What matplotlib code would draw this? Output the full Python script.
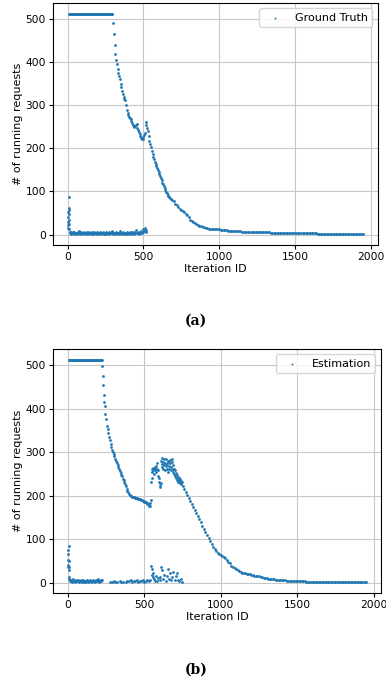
import numpy as np
import matplotlib
matplotlib.use('Agg')
import matplotlib.pyplot as plt

# ---- (a) Ground Truth ----
# plateau at max batch size
gt_flat_y = [512, 512, 512, 512, 512, 512, 512, 512, 512, 512,
             512, 512, 512, 512, 512, 512, 512, 512, 512, 512,
             512, 512, 512, 512, 512, 512, 512, 512, 512, 512,
             512, 512, 512, 512, 512, 512, 512, 512, 512, 512,
             512, 512, 512, 512, 512, 512, 512, 512, 512, 512,
             512, 512, 512, 512, 512, 512, 512]                # x = 10..290 step 5

gt_drop_y = [512, 490, 465, 440, 418, 405, 395, 385, 375, 367,
             360, 350, 343, 333, 325, 318, 315, 311, 300, 290,
             282, 277, 273, 270, 267, 263, 259, 255, 251, 249,
             252, 255, 257, 248, 242, 237, 233, 229, 225, 222,
             222, 226, 230, 235, 260, 255, 248, 240, 229, 218,
             210, 202, 194, 188, 181, 175, 169, 164, 159, 154,
             150, 146, 141, 136, 131, 126, 120, 117, 112, 107,
             103, 99, 96, 93, 90, 88, 85, 83]                 # x = 295..680 step 5

gt_tail_y = [80, 77, 72, 68, 65, 60, 57, 55, 52, 49,
             45, 40, 35, 32, 29, 26, 24, 22, 20, 19,
             18, 17, 16, 15, 14, 13, 13, 12, 12, 12,
             12, 12, 11, 11, 11, 10, 10, 9, 9, 9,
             8, 8, 8, 8, 8, 8, 7, 7, 7, 7,
             7, 7, 7, 7, 7, 7, 7, 7, 7, 6,
             6, 6, 5, 5, 5, 4, 4, 4, 4, 4,
             4, 4, 4, 4, 4, 4, 4, 4, 3, 3,
             3, 3, 3, 3, 3, 3, 3, 3, 3, 3,
             3, 3, 3, 3, 3, 3, 2, 2, 2, 2,
             2, 2, 2, 2, 2, 2, 2, 2, 2, 2,
             2, 2, 2, 2, 1, 1, 1, 1, 1, 1,
             1, 1, 1, 1, 1, 1, 1]                               # x = 690..1950 step 10

gt_spike_x = [0, 2, 3, 4, 5, 6, 7, 8, 9, 10, 11, 12, 14]
gt_spike_y = [15, 22, 30, 40, 52, 62, 58, 87, 48, 35, 25, 12, 6]

gt_low_y = [4, 2, 6, 3, 5, 2, 7, 3, 4, 2,
            5, 3, 8, 2, 4, 6, 3, 2, 5, 3,
            4, 2, 6, 3, 2, 5, 3, 4, 2, 6,
            3, 2, 5, 4, 2, 3, 6, 2, 4, 3,
            5, 2, 3, 4, 6, 2, 3, 5, 2, 4,
            3, 6, 2, 4, 3, 5, 8, 2, 3, 4,
            2, 5, 3, 2, 4, 3, 9, 2, 4, 3,
            5, 2, 3, 4, 2, 6, 3, 2, 4, 5,
            3, 2, 6, 4, 2, 5, 3, 10, 4, 3,
            6, 2, 5, 4, 8, 3, 6, 12, 9, 15,
            10, 7]                                              # x = 15..520 step 5

# ---- (b) Estimation ----
est_flat_y = [512, 512, 512, 512, 512, 512, 512, 512, 512, 512,
              512, 512, 512, 512, 512, 512, 512, 512, 512, 512,
              512, 512, 512, 512, 512, 512, 512, 512, 512, 512,
              512, 512, 512, 512, 512, 512, 512, 512, 512, 512,
              512, 512, 512, 512, 512]                          # x = 5..225 step 5

est_steep_x = [225, 228, 231, 234, 237, 240, 245, 250]
est_steep_y = [498, 475, 455, 430, 415, 405, 388, 375]

est_decay_y = [360, 352, 343, 335, 327, 318, 312, 305, 300, 295,
               290, 285, 280, 274, 269, 265, 261, 257, 252, 248,
               244, 239, 235, 230, 226, 221, 216, 211, 207, 204,
               201, 199, 198, 197, 197, 196, 196, 195, 195, 194,
               194, 193, 193, 192, 191, 190, 189, 188, 187, 186,
               185, 184, 183, 181, 180, 177, 176, 182, 190]     # x = 255..545 step 5

est_bump_x = [545, 548, 550, 553, 556, 558, 561, 564, 567, 570,
              573, 576, 579, 582, 585, 588, 592, 595, 598, 601,
              604, 607, 610, 613, 616, 619, 622, 625, 628, 631,
              634, 637, 640, 643, 646, 649, 652, 655, 658, 661,
              664, 667, 670, 673, 676, 679, 682, 685, 688, 691,
              694, 697, 700, 703, 706, 709, 712, 715, 718, 721,
              724, 727, 730, 733, 736, 739, 742, 745]
est_bump_y = [232, 255, 262, 240, 258, 264, 250, 262, 258, 265,
              262, 255, 268, 275, 262, 258, 245, 240, 232, 225,
              220, 228, 280, 286, 272, 265, 278, 260, 283, 270,
              258, 275, 268, 285, 262, 272, 278, 255, 280, 268,
              260, 275, 282, 266, 258, 278, 284, 270, 262, 255,
              262, 250, 258, 245, 252, 240, 248, 236, 243, 232,
              240, 236, 230, 238, 228, 234, 226, 230]

est_tail_y = [222, 215, 208, 201, 194, 187, 180, 173, 166, 159,
              152, 145, 138, 131, 124, 117, 110, 103, 96, 89,
              82, 77, 72, 68, 66, 64, 61, 58, 56, 52,
              48, 44, 39, 35, 33, 30, 28, 27, 25, 23,
              22, 21, 20, 19, 19, 18, 17, 16, 15, 15,
              14, 13, 12, 11, 11, 10, 9, 8, 8, 7,
              7, 6, 6, 5, 5, 5, 5, 5, 4, 4,
              4, 4, 4, 4, 3, 3, 3, 3, 3, 3,
              3, 2, 2, 2, 2, 2, 2, 2, 1, 1,
              1, 1, 1, 1, 1, 1, 1, 1, 1, 1,
              1, 1, 1, 1, 1, 1, 1, 1, 1, 1,
              1, 1, 1, 1, 1, 1, 1, 1, 1, 1,
              1]                                                # x = 750..1950 step 10

est_spike_x = [0, 1, 2, 3, 4, 5, 6, 7, 8, 9, 10, 12]
est_spike_y = [35, 40, 52, 65, 75, 85, 50, 36, 28, 13, 8, 5]

est_low_y = [3, 6, 2, 5, 8, 3, 4, 2, 6, 3,
             5, 2, 4, 3, 6, 2, 3, 5, 2, 4,
             3, 2, 5, 3, 4, 2, 6, 3, 2, 4,
             5, 3, 2, 4, 6, 3, 5, 7, 2, 4,
             6, 3, 5]                                           # x = 15..225 step 5

est_sparse_x = [273, 290, 300, 310, 320, 340, 350, 360, 380, 390, 400, 410,
                420, 430, 440, 450, 460, 470, 480, 490, 500, 510, 520, 530,
                540, 545, 548, 552, 556, 560, 565, 570, 575, 580, 590, 600,
                605, 612, 618, 625, 630, 640, 648, 655, 662, 668, 675, 682,
                690, 698, 705, 712, 720, 730, 740, 748]
est_sparse_y = [2, 1, 3, 2, 1, 3, 2, 1, 2, 4, 3, 5,
                2, 4, 3, 6, 2, 4, 3, 5, 2, 4, 6, 3,
                5, 38, 30, 17, 12, 22, 8, 4, 14, 3, 10, 5,
                12, 36, 28, 9, 18, 4, 15, 30, 8, 21, 5, 12,
                25, 6, 14, 22, 5, 3, 7, 2]


def steps(start, step, vals):
    return np.arange(len(vals)) * step + start


gt_x = np.concatenate([steps(10, 5, gt_flat_y), steps(295, 5, gt_drop_y),
                       steps(690, 10, gt_tail_y), gt_spike_x, steps(15, 5, gt_low_y)])
gt_y = np.concatenate([gt_flat_y, gt_drop_y, gt_tail_y, gt_spike_y, gt_low_y])

est_x = np.concatenate([steps(5, 5, est_flat_y), est_steep_x, steps(255, 5, est_decay_y),
                        est_bump_x, steps(750, 10, est_tail_y), est_spike_x,
                        steps(15, 5, est_low_y), est_sparse_x])
est_y = np.concatenate([est_flat_y, est_steep_y, est_decay_y, est_bump_y, est_tail_y,
                        est_spike_y, est_low_y, est_sparse_y])

plt.rcParams['font.size'] = 8

fig = plt.figure(figsize=(3.86, 6.85), dpi=100)
ax1 = fig.add_axes([0.137, 0.642, 0.842, 0.354])
ax2 = fig.add_axes([0.137, 0.134, 0.850, 0.357])

for ax, x, y, lab in [(ax1, gt_x, gt_y, 'Ground Truth'), (ax2, est_x, est_y, 'Estimation')]:
    ax.scatter(x, y, s=4, color='#1f77b4', label=lab, linewidths=0)
    ax.set_xticks([0, 500, 1000, 1500, 2000])
    ax.set_yticks([0, 100, 200, 300, 400, 500])
    ax.set_xlabel('Iteration ID', labelpad=1)
    ax.set_ylabel('# of running requests', labelpad=2)
    ax.grid(True, color='#c8c8c8', linewidth=0.8)
    ax.set_axisbelow(True)
    ax.tick_params(length=3, pad=2, labelsize=7.7)
    ax.legend(loc='upper right', markerscale=0.7, handletextpad=0.8)

fig.text(0.508, 1 - 321 / 685, '(a)', ha='center', va='center',
         fontsize=10, fontweight='bold', family='DejaVu Serif')
fig.text(0.508, 1 - 670 / 685, '(b)', ha='center', va='center',
         fontsize=10, fontweight='bold', family='DejaVu Serif')

fig.savefig('out.png', dpi=100)
